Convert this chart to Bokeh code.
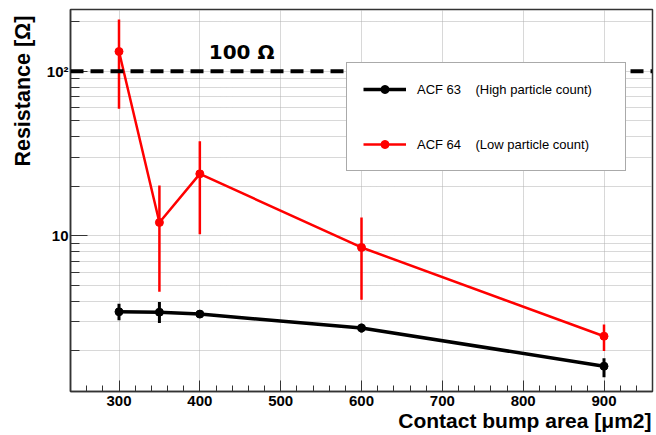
import math
from bokeh.plotting import figure
from bokeh.models import (FixedTicker, Label, Legend, LegendItem, Arrow,
                          Range1d, ColumnDataSource, Title)
from bokeh.embed import file_html
from bokeh.resources import INLINE

# ---- data ----
area = [300, 350, 400, 600, 900]
acf63 = [3.45, 3.43, 3.34, 2.75, 1.61]
acf63_lo = [3.06, 2.95, 3.18, 2.58, 1.38]
acf63_hi = [3.86, 3.96, 3.53, 2.92, 1.80]
acf64 = [132.0, 12.05, 23.8, 8.49, 2.45]
acf64_lo = [59.2, 4.56, 10.2, 4.09, 1.99]
acf64_hi = [207.0, 20.2, 37.6, 12.9, 2.89]
x_major = [300, 400, 500, 600, 700, 800, 900]
x_minor = list(range(240, 961, 20))
y_major = [10, 100]
y_minor = [2, 3, 4, 5, 6, 7, 8, 9, 20, 30, 40, 50, 60, 70, 80, 90, 200]
threshold = 100
x_lo, x_hi = 240, 960
y_lo, y_hi = 1.13, 237.7
series_names = ["ACF 63", "ACF 64"]
series_notes = ["(High particle count)", "(Low particle count)"]

FONT = "Liberation Sans"
GAP = "\u00a0" * 4

p = figure(width=654, height=435, y_axis_type="log", output_backend="svg",
           toolbar_location=None, x_range=Range1d(x_lo, x_hi),
           y_range=Range1d(y_lo, y_hi),
           min_border_left=69, min_border_right=2, min_border_top=9,
           min_border_bottom=44)
p.outline_line_color = "#333333"
p.outline_line_width = 1.5
p.background_fill_color = "white"
p.border_fill_color = "white"

# axes
p.xaxis.ticker = FixedTicker(ticks=x_major, minor_ticks=x_minor)
p.yaxis.ticker = FixedTicker(ticks=y_major, minor_ticks=y_minor)
p.yaxis.major_label_overrides = {10: "10", 100: "10\u00b2"}
for ax in (p.xaxis[0], p.yaxis[0]):
    ax.axis_line_color = "#333333"
    ax.axis_line_width = 1.5
    ax.major_tick_line_color = "#333333"
    ax.minor_tick_line_color = "#333333"
    ax.major_tick_out = 0
    ax.minor_tick_out = 0
    ax.major_label_text_font = FONT
    ax.major_label_text_font_style = "bold"
    ax.major_label_text_font_size = "15px"
    ax.major_label_text_color = "black"
p.xaxis.major_tick_in = 11
p.xaxis.minor_tick_in = 6
p.yaxis.major_tick_in = 17
p.yaxis.minor_tick_in = 9
p.xaxis.major_label_standoff = 4
p.yaxis.major_label_standoff = 2

# grid
for g in (p.xgrid[0], p.ygrid[0]):
    g.grid_line_color = "#b0b0b0"
    g.grid_line_dash = "1 1"
p.ygrid.minor_grid_line_color = "#b0b0b0"
p.ygrid.minor_grid_line_dash = "1 1"

# threshold line
p.add_layout(Arrow(end=None, x_start=x_lo, y_start=threshold, x_end=x_hi,
                   y_end=threshold, line_color="black", line_width=4,
                   line_dash="13 7"))
p.add_layout(Label(x=411, y=111, text="100 \u03a9", text_font="DejaVu Sans",
                   text_font_style="bold", text_font_size="20px",
                   text_color="black"))

# series
s63 = ColumnDataSource(dict(x=area, y=acf63, lo=acf63_lo, hi=acf63_hi))
s64 = ColumnDataSource(dict(x=area, y=acf64, lo=acf64_lo, hi=acf64_hi))

p.segment(x0="x", y0="lo", x1="x", y1="hi", source=s63, line_color="black",
          line_width=3)
l63 = p.line("x", "y", source=s63, line_color="black", line_width=3.5)
m63 = p.scatter("x", "y", source=s63, marker="circle", size=8,
                fill_color="black", line_color="black")

p.segment(x0="x", y0="lo", x1="x", y1="hi", source=s64, line_color="#ff0000",
          line_width=2.5)
l64 = p.line("x", "y", source=s64, line_color="#ff0000", line_width=2.5)
m64 = p.scatter("x", "y", source=s64, marker="circle", size=8,
                fill_color="#ff0000", line_color="#ff0000")

legend = Legend(items=[
    LegendItem(label=series_names[0] + GAP + series_notes[0], renderers=[l63, m63]),
    LegendItem(label=series_names[1] + GAP + series_notes[1], renderers=[l64, m64])],
    location=(276, 220), orientation="vertical")
legend.label_text_font = FONT
legend.label_text_font_size = "13px"
legend.label_text_color = "black"
legend.glyph_width = 43
legend.glyph_height = 20
legend.label_height = 20
legend.label_width = 192
legend.label_standoff = 11
legend.spacing = 35
legend.padding = 16
legend.margin = 0
legend.border_line_color = "#555555"
legend.border_line_width = 1.5
legend.background_fill_color = "white"
legend.background_fill_alpha = 1.0
p.add_layout(legend)

# axis titles
p.add_layout(Title(text="Contact bump area [\u03bcm2]", align="right",
                   offset=1, text_font=FONT, text_font_style="bold",
                   text_font_size="21px", text_color="black", standoff=0,
                   vertical_align="top"),
             "below")
p.add_layout(Title(text="Resistance [\u03a9]", align="right", offset=6,
                   text_font=FONT, text_font_style="bold",
                   text_font_size="21.5px", text_color="black", standoff=17),
             "left")

open("out.html", "w").write(file_html(p, INLINE))
